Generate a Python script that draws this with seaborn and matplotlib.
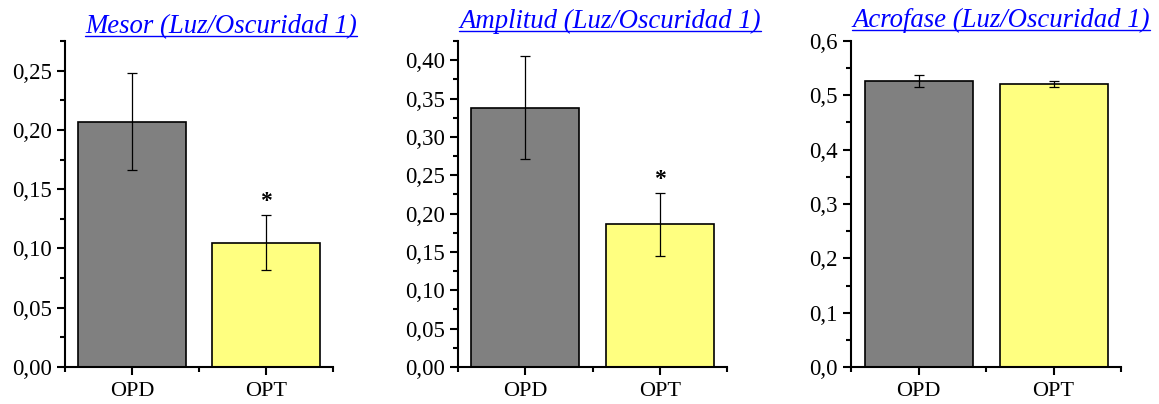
import matplotlib
matplotlib.use("Agg")
import matplotlib.pyplot as plt
import seaborn as sns
import pandas as pd
from matplotlib.ticker import FuncFormatter, MultipleLocator, FixedLocator
from matplotlib.lines import Line2D

# --- data ---
groups = ["OPD", "OPT"]
titles = ["Mesor (Luz/Oscuridad 1)", "Amplitud (Luz/Oscuridad 1)", "Acrofase (Luz/Oscuridad 1)"]
mesor = [0.207, 0.105]
mesor_se = [0.041, 0.023]
amplitud = [0.338, 0.186]
amplitud_se = [0.067, 0.041]
acrofase = [0.527, 0.521]
acrofase_se = [0.011, 0.005]
signif = [["", "*"], ["", "*"], ["", ""]]

bar_colors = ["#808080", "#FFFF80"]

sns.set_style("ticks")
plt.rcParams["font.family"] = ["Liberation Serif", "DejaVu Serif"]
plt.rcParams["text.color"] = "black"
plt.rcParams["xtick.color"] = "black"
plt.rcParams["ytick.color"] = "black"

fig = plt.figure(figsize=(11.59, 4.04), dpi=100)
W, H = 1159, 404

# axes boxes in pixels: left, right, top, bottom
boxes = [(65, 333, 41, 367), (458, 727, 41, 367), (851, 1121, 41, 367)]
ylims = [0.275, 0.425, 0.6]
majors = [0.05, 0.05, 0.1]
decimals = [2, 2, 1]
title_pos = [(221, 33), (610, 28), (1001, 27)]

panels = [(mesor, mesor_se), (amplitud, amplitud_se), (acrofase, acrofase_se)]

for i, (vals, errs) in enumerate(panels):
    l, r, t, b = boxes[i]
    ax = fig.add_axes([l / W, (H - b) / H, (r - l) / W, (b - t) / H])
    df = pd.DataFrame({"grupo": groups, "valor": vals})
    sns.barplot(data=df, x="grupo", y="valor", hue="grupo", palette=bar_colors,
                saturation=1, errorbar=None, width=0.8, edgecolor="black",
                linewidth=1.2, legend=False, ax=ax)
    ax.errorbar(range(len(groups)), vals, yerr=errs, fmt="none", ecolor="black",
                elinewidth=0.9, capsize=3.5, capthick=0.9)
    for j, s in enumerate(signif[i]):
        if s:
            ax.text(j, vals[j] + errs[j] + ylims[i] * 0.01, s, ha="center", va="bottom",
                    fontsize=17, fontweight="bold")

    ax.set_xlim(-0.5, 1.5)
    ax.set_ylim(0, ylims[i])
    ax.set_xlabel("")
    ax.set_ylabel("")
    ax.yaxis.set_major_locator(MultipleLocator(majors[i]))
    ax.yaxis.set_minor_locator(MultipleLocator(majors[i] / 2))
    d = decimals[i]
    ax.yaxis.set_major_formatter(FuncFormatter(lambda v, p, d=d: f"{v:.{d}f}".replace(".", ",")))
    ax.xaxis.set_minor_locator(FixedLocator([-0.5, 0.5, 1.5]))
    sns.despine(ax=ax)
    for sp in ["left", "bottom"]:
        ax.spines[sp].set_linewidth(1.5)
        ax.spines[sp].set_color("black")
    ax.tick_params(which="major", length=6, width=1.5, labelsize=16.5, color="black",
                   labelcolor="black")
    ax.tick_params(which="minor", length=3.5, width=1.5, color="black")
    ax.tick_params(axis="x", labelsize=16, pad=5)

    tx, ty = title_pos[i]
    fig.text(tx / W, (H - ty) / H, titles[i], ha="center", va="baseline",
             fontsize=19.3, style="italic", color="#0000FF")

# underline the titles
fig.canvas.draw()
renderer = fig.canvas.get_renderer()
for txt in list(fig.texts):
    bb = txt.get_window_extent(renderer)
    y_base = txt.get_position()[1] * H - 3
    fig.add_artist(Line2D([bb.x0 / W, bb.x1 / W], [y_base / H, y_base / H],
                          transform=fig.transFigure, color="#0000FF", linewidth=1))

fig.savefig("out.png", dpi=100)
